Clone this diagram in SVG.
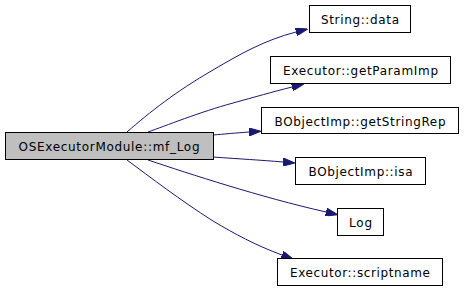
<svg xmlns="http://www.w3.org/2000/svg" width="464" height="291" viewBox="0 0 464 291">
<style>
.n rect{fill:#ffffff;stroke:#000000;stroke-width:1}
.n.main rect{fill:#bfbfbf}
.n text{font-family:"DejaVu Sans","Liberation Sans",sans-serif;font-size:12px;fill:#000000;text-anchor:middle}
.e path{fill:none;stroke:#191970;stroke-width:1;marker-end:url(#ah)}
</style>
<defs>
<marker id="ah" viewBox="0 0 12 8" refX="0" refY="4" markerWidth="12" markerHeight="8" markerUnits="userSpaceOnUse" orient="auto">
<path d="M0,0 L12,4 L0,8 z" fill="#191970" stroke="#191970" stroke-width="1"/>
</marker>
</defs>
<rect width="464" height="291" fill="#ffffff"/>
<g id="edges" class="e">
<path d="M127,132 C150,112 175,92 213,70 C240,54 265,40 296,32"/>
<path d="M148,132 C165,126 200,112 233,103 C255,97 272,92 292,87"/>
<path d="M213,135 C225,134 235,133 249,132"/>
<path d="M213,157 C240,159 260,160 283,162"/>
<path d="M148,160 C190,174 260,197 326,212"/>
<path d="M127,160 C150,177 180,200 213,221 C235,234 255,245 282,255"/>
</g>
<g id="OSExecutorModule_mf_Log" class="n main">
<rect x="5.5" y="132.5" width="208" height="27"/>
<text x="109" y="151" textLength="181" lengthAdjust="spacing">OSExecutorModule::mf_Log</text>
</g>
<g id="String_data" class="n">
<rect x="309.5" y="5.5" width="101" height="27"/>
<text x="360" y="24" textLength="78" lengthAdjust="spacing">String::data</text>
</g>
<g id="Executor_getParamImp" class="n">
<rect x="270.5" y="56.5" width="180" height="27"/>
<text x="360.5" y="75" textLength="155" lengthAdjust="spacing">Executor::getParamImp</text>
</g>
<g id="BObjectImp_getStringRep" class="n">
<rect x="261.5" y="107.5" width="197" height="26"/>
<text x="360" y="125.5" textLength="171" lengthAdjust="spacing">BObjectImp::getStringRep</text>
</g>
<g id="BObjectImp_isa" class="n">
<rect x="295.5" y="157.5" width="130" height="27"/>
<text x="360.5" y="176" textLength="104" lengthAdjust="spacing">BObjectImp::isa</text>
</g>
<g id="Log" class="n">
<rect x="337.5" y="208.5" width="46" height="27"/>
<text x="360.5" y="227" textLength="23" lengthAdjust="spacing">Log</text>
</g>
<g id="Executor_scriptname" class="n">
<rect x="277.5" y="258.5" width="165" height="27"/>
<text x="360" y="277" textLength="140" lengthAdjust="spacing">Executor::scriptname</text>
</g>
</svg>
